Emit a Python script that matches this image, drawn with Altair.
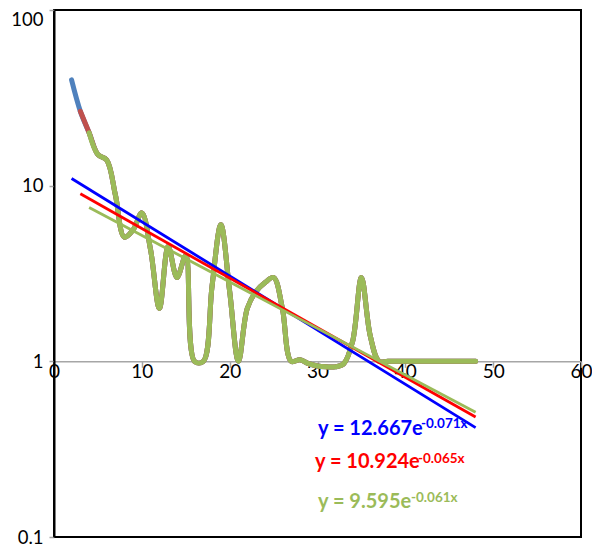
import altair as alt
import pandas as pd

# ---- data ----
x_vals = [2, 3, 4, 5, 6, 7, 8, 9, 10, 11, 12, 13, 14, 15, 16, 17, 18, 19, 20,
          21, 22, 23, 24, 25, 26, 27, 28, 29, 30, 31, 32, 33, 34, 35, 36, 37,
          38, 39, 40, 41, 42, 43, 44, 45, 46, 47, 48]
y_vals = [40, 26.5, 20, 15, 14, 8.8, 5.1, 5.6, 7, 4.3, 2, 4.5, 3, 4, 1, 1, 2.7, 6, 2.5,
          1, 2, 2.5, 2.8, 3, 2, 1, 1.02, 0.97, 0.94, 0.93, 0.93, 0.97, 1.3, 3, 1.4, 1,
          1, 1, 1, 1, 1, 1, 1, 1, 1, 1, 1]

series_start = [2, 3, 4]
series_colors = ["#4F81BD", "#C0504D", "#9BBB59"]

trend_a = [12.667, 10.924, 9.595]
trend_b = [-0.071, -0.065, -0.061]
trend_start = [2, 3, 4]
trend_end = [48, 48, 48]
trend_colors = ["#0000FF", "#FF0000", "#9BBB59"]

eq_main = ["y = 12.667e", "y = 10.924e", "y = 9.595e"]
eq_exp = ["-0.071x", "-0.065x", "-0.061x"]

x_ticks = [0, 10, 20, 30, 40, 50, 60]
y_ticks = [0.1, 1, 10, 100]

# ---- chart ----
W, H = 527, 527
FONT = "Lato"

data = pd.DataFrame({"x": x_vals, "y": y_vals})

x_scale = alt.Scale(domain=[0, 60], nice=False, zero=False)
y_scale = alt.Scale(type="log", domain=[0.1, 100], nice=False)

x_axis = alt.Axis(values=x_ticks, orient="bottom", offset=-H / 3, title=None,
                  domainColor="#A6A6A6", domainWidth=1.5, tickColor="#A6A6A6",
                  tickSize=6, tickWidth=1.5, labelFontSize=19, labelFont=FONT,
                  labelColor="#000000", labelPadding=-5, labelFlush=False,
                  labelOverlap=False, labelBound=False, grid=False)
y_axis = alt.Axis(values=y_ticks, title=None, domainColor="#000000", domainWidth=2,
                  tickColor="#A6A6A6", tickSize=5, tickWidth=1.5, labelFontSize=18.5,
                  labelFont=FONT, labelColor="#000000", labelPadding=6,
                  labelFlush=False, labelOverlap=False, labelBound=False, grid=False,
                  labelExpr="datum.value + ''",
                  labelBaseline={"condition": {"test": "datum.value >= 100", "value": "top"},
                                 "value": "middle"})

enc_x = alt.X("x:Q", scale=x_scale, axis=x_axis)
enc_y = alt.Y("y:Q", scale=y_scale, axis=y_axis)

layers = []
for start, col in zip(series_start, series_colors):
    layers.append(
        alt.Chart(data[data["x"] >= start])
        .mark_line(interpolate="catmull-rom", strokeWidth=5, strokeCap="round",
                   strokeJoin="round", color=col)
        .encode(x=enc_x, y=enc_y)
    )

for a, b, s, e, col in zip(trend_a, trend_b, trend_start, trend_end, trend_colors):
    tdf = pd.DataFrame({"x": [s, e], "a": [a, a], "b": [b, b]})
    layers.append(
        alt.Chart(tdf)
        .transform_calculate(y="datum.a * exp(datum.b * datum.x)")
        .mark_line(strokeWidth=2.8, color=col)
        .encode(x=enc_x, y=enc_y)
    )

# equation labels (page coords -> view coords: x-54, y-10)
main_pos = [(264, 425), (261, 458), (264, 498)]
exp_pos = [(367, 417.5), (364, 452.5), (357, 492)]
for txt, ex, col, mp, ep in zip(eq_main, eq_exp, trend_colors, main_pos, exp_pos):
    layers.append(
        alt.Chart(pd.DataFrame({"t": [txt]}))
        .mark_text(align="left", baseline="alphabetic", fontSize=20, fontWeight="bold",
                   font=FONT, color=col)
        .encode(text="t:N", x=alt.value(mp[0]), y=alt.value(mp[1]))
    )
    layers.append(
        alt.Chart(pd.DataFrame({"t": [ex]}))
        .mark_text(align="left", baseline="alphabetic", fontSize=13.5, fontWeight="bold",
                   font=FONT, color=col)
        .encode(text="t:N", x=alt.value(ep[0]), y=alt.value(ep[1]))
    )

chart = (
    alt.layer(*layers)
    .properties(width=W, height=H, autosize=alt.AutoSizeParams(type="none"),
                padding={"left": 46, "top": 2, "right": 11, "bottom": 12},
                background="#FFFFFF")
    .configure_view(stroke="#000000", strokeWidth=2)
)

chart.save("out.html", embed_options={"renderer": "svg", "actions": False})
